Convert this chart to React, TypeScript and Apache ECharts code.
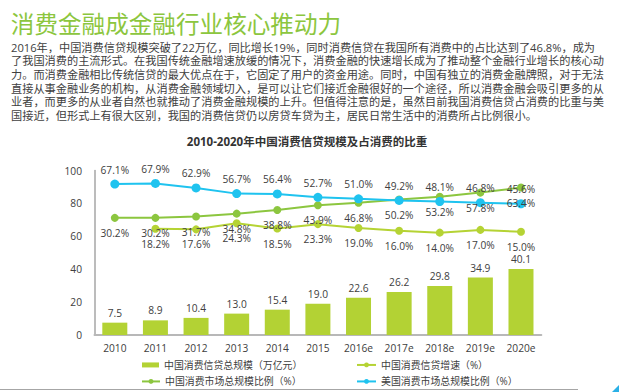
import React, { useEffect, useRef } from 'react';
import * as echarts from 'echarts';

const categories = ['2010', '2011', '2012', '2013', '2014', '2015', '2016e', '2017e', '2018e', '2019e', '2020e'];
const loanScale = [7.5, 8.9, 10.4, 13.0, 15.4, 19.0, 22.6, 26.2, 29.8, 34.9, 40.1];
const loanGrowth = [null, 18.2, 17.6, 24.3, 18.5, 23.3, 19.0, 16.0, 14.0, 17.0, 15.0];
const chinaRatio = [30.2, 30.2, 31.7, 34.8, 38.8, 43.9, 46.8, 50.2, 53.2, 57.8, 63.4];
const usRatio = [67.1, 67.9, 62.9, 56.7, 56.4, 52.7, 51.0, 49.2, 48.1, 46.8, 45.6];
const yTicks = [0, 20, 40, 60, 80, 100];

const pageTitle = '消费金融成金融行业核心推动力';
const chartTitle = '2010-2020年中国消费信贷规模及占消费的比重';
const paragraph = [
  '2016年，中国消费信贷规模突破了22万亿，同比增长19%，同时消费信贷在我国所有消费中的占比达到了46.8%，成为',
  '了我国消费的主流形式。在我国传统金融增速放缓的情况下，消费金融的快速增长成为了推动整个金融行业增长的核心动',
  '力。而消费金融相比传统信贷的最大优点在于，它固定了用户的资金用途。同时，中国有独立的消费金融牌照，对于无法',
  '直接从事金融业务的机构，从消费金融领域切入，是可以让它们接近金融很好的一个途径，所以消费金融会吸引更多的从',
  '业者，而更多的从业者自然也就推动了消费金融规模的上升。但值得注意的是，虽然目前我国消费信贷占消费的比重与美',
  '国接近，但形式上有很大区别，我国的消费信贷仍以房贷车贷为主，居民日常生活中的消费所占比例很小。',
];

const NAME_BAR = '中国消费信贷总规模（万亿元）';
const NAME_GROWTH = '中国消费信贷增速（%）';
const NAME_CN = '中国消费市场总规模比例（%）';
const NAME_US = '美国消费市场总规模比例（%）';

const FONT = '"Open Sans", "Noto Sans CJK SC", sans-serif';
const TXT = '#404040';
const C_BAR = '#b3d234';
const C_GROWTH = '#b5d334';
const C_CN = '#8cc63f';
const C_US = '#1fc3ef';

export default function App() {
  const ref = useRef<HTMLDivElement>(null);
  useEffect(() => {
    const chart = echarts.init(ref.current!, null, { renderer: 'svg' });
    const labelStyle = { fontSize: 10.2, color: TXT, fontFamily: FONT };
    const legendText = { fontSize: 9.9, color: TXT, fontFamily: FONT };
    const pct = (p: any) => (p.value == null ? '' : Number(p.value).toFixed(1) + '%');
    chart.setOption({
      animation: false,
      backgroundColor: '#ffffff',
      textStyle: { fontFamily: FONT },
      grid: { left: 94.5, right: 77.7, top: 170.5, bottom: 57 },
      xAxis: {
        type: 'category',
        data: categories,
        axisLine: { show: true, lineStyle: { color: '#b8b8b8', width: 2 } },
        axisTick: { show: false },
        axisLabel: { ...labelStyle, margin: 8 },
      },
      yAxis: [
        {
          type: 'value',
          min: yTicks[0],
          max: yTicks[yTicks.length - 1],
          interval: 20,
          axisLine: { show: true, lineStyle: { color: '#a6a6a6', width: 1.5 } },
          axisTick: { show: false },
          splitLine: { show: false },
          axisLabel: { ...labelStyle, margin: 12.5 },
        },
        { type: 'value', min: -98, max: 82, show: false, splitLine: { show: false } },
      ],
      legend: [
        {
          data: [{ name: NAME_BAR, icon: 'rect' }],
          left: 142, top: 360, padding: 0, itemWidth: 17, itemHeight: 5,
          textStyle: legendText, selectedMode: false,
        },
        {
          data: [NAME_GROWTH],
          left: 356, top: 360, padding: 0, itemWidth: 19, itemHeight: 6,
          textStyle: legendText, selectedMode: false,
        },
        {
          data: [NAME_CN],
          left: 141, top: 376.5, padding: 0, itemWidth: 18, itemHeight: 6,
          textStyle: legendText, selectedMode: false,
        },
        {
          data: [NAME_US],
          left: 356, top: 376.5, padding: 0, itemWidth: 19, itemHeight: 6,
          textStyle: legendText, selectedMode: false,
        },
      ],
      series: [
        {
          name: NAME_BAR,
          type: 'bar',
          data: loanScale,
          barWidth: 25,
          itemStyle: { color: C_BAR },
          label: {
            show: true,
            position: 'top',
            distance: 5,
            ...labelStyle,
            formatter: (p: any) => Number(p.value).toFixed(1),
          },
        },
        {
          name: NAME_GROWTH,
          type: 'line',
          yAxisIndex: 1,
          data: loanGrowth,
          symbol: 'circle',
          symbolSize: 8,
          lineStyle: { color: C_GROWTH, width: 2 },
          itemStyle: { color: C_GROWTH },
          label: { show: true, position: 'bottom', distance: 6, ...labelStyle, formatter: pct },
        },
        {
          name: NAME_CN,
          type: 'line',
          yAxisIndex: 1,
          data: chinaRatio,
          symbol: 'circle',
          symbolSize: 8,
          lineStyle: { color: C_CN, width: 2 },
          itemStyle: { color: C_CN },
          label: { show: true, position: 'bottom', distance: 6, ...labelStyle, formatter: pct },
        },
        {
          name: NAME_US,
          type: 'line',
          yAxisIndex: 1,
          data: usRatio,
          symbol: 'circle',
          symbolSize: 9,
          lineStyle: { color: C_US, width: 2 },
          itemStyle: { color: C_US },
          label: { show: true, position: 'top', distance: 5, ...labelStyle, formatter: pct },
        },
      ],
      graphic: [
        {
          type: 'text', x: 10.8, y: 24,
          style: { text: pageTitle, fontSize: 23.6, fill: '#8cc63e', fontFamily: FONT, verticalAlign: 'middle', align: 'left' },
        },
        ...paragraph.map((line, i) => ({
          type: 'text', x: 11, y: 47.3 + i * 13.6,
          style: { text: line, fontSize: 11.2, fill: TXT, fontFamily: FONT, verticalAlign: 'middle', align: 'left' },
        })),
        {
          type: 'text', x: 307, y: 141.7,
          style: { text: chartTitle, fontSize: 11.5, fontWeight: 'bold', fill: '#333333', fontFamily: FONT, verticalAlign: 'middle', align: 'center' },
        },
        {
          type: 'line', shape: { x1: 0, y1: 389.5, x2: 578, y2: 389.5 },
          style: { stroke: '#a6a6a6', lineWidth: 1 },
        },
        {
          type: 'polygon', shape: { points: [[612, 392], [619, 385], [619, 392]] },
          style: { fill: '#2ab0e6' },
        },
      ],
    });
    return () => chart.dispose();
  }, []);
  return (
    <div
      ref={ref}
      style={{ position: 'fixed', left: 0, top: 0, width: 619, height: 392, background: '#fff' }}
    />
  );
}
